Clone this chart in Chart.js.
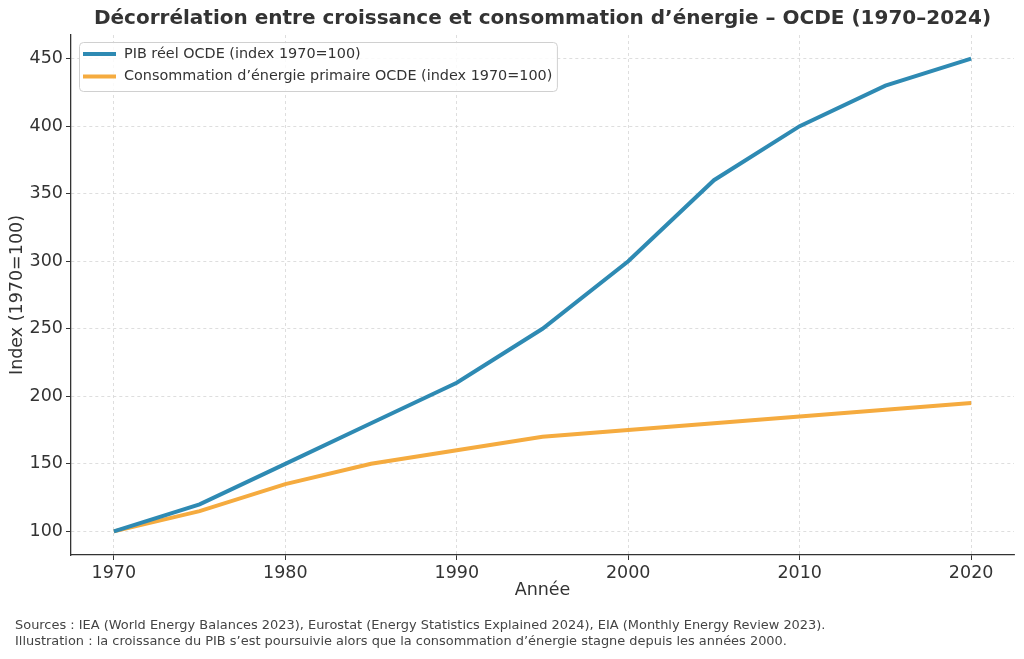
<!DOCTYPE html>
<html><head><meta charset="utf-8">
<script src="https://cdn.jsdelivr.net/npm/chart.js@4"></script>
<style>html,body{margin:0;padding:0;background:#fff}#wrap{width:1024px;height:659px;position:relative}</style>
</head><body><div id="wrap"><canvas id="c" width="1024" height="659"></canvas></div>
<script>
const years = [1970, 1975, 1980, 1985, 1990, 1995, 2000, 2005, 2010, 2015, 2020];
const gdp = [100, 120, 150, 180, 210, 250, 300, 360, 400, 430, 450];
const energy = [100, 115, 135, 150, 160, 170, 175, 180, 185, 190, 195];
const xTicks = [1970, 1980, 1990, 2000, 2010, 2020];
const yTicks = [100, 150, 200, 250, 300, 350, 400, 450];
const seriesLabels = ['PIB réel OCDE (index 1970=100)', 'Consommation d’énergie primaire OCDE (index 1970=100)'];
const seriesColors = ['#2E8AB3', '#F5AB3F'];
const titleText = 'Décorrélation entre croissance et consommation d’énergie – OCDE (1970–2024)';
const xTitle = 'Année';
const yTitle = 'Index (1970=100)';
const footerLines = [
  'Sources : IEA (World Energy Balances 2023), Eurostat (Energy Statistics Explained 2024), EIA (Monthly Energy Review 2023).',
  'Illustration : la croissance du PIB s’est poursuivie alors que la consommation d’énergie stagne depuis les années 2000.'
];

const FONT = '"DejaVu Sans", sans-serif';

const decorPlugin = {
  id: 'decor',
  afterDraw(chart) {
    const ctx = chart.ctx;
    const ca = chart.chartArea;
    ctx.save();
    // Title
    ctx.fillStyle = '#333333';
    ctx.textAlign = 'center';
    ctx.textBaseline = 'middle';
    ctx.font = 'bold 20px ' + FONT;
    ctx.fillText(titleText, (ca.left + ca.right) / 2, 19);
    // Legend
    ctx.font = '14.4px ' + FONT;
    const lx = ca.left + 8, ly = ca.top + 7;
    let maxW = 0;
    seriesLabels.forEach(t => { maxW = Math.max(maxW, ctx.measureText(t).width); });
    const bw = 49.5 + maxW, bh = 49;
    ctx.beginPath();
    if (ctx.roundRect) ctx.roundRect(lx + 0.5, ly + 0.5, bw, bh, 4); else ctx.rect(lx + 0.5, ly + 0.5, bw, bh);
    ctx.fillStyle = 'rgba(255,255,255,0.85)';
    ctx.fill();
    ctx.strokeStyle = '#d0d0d0';
    ctx.lineWidth = 1;
    ctx.stroke();
    seriesLabels.forEach((t, i) => {
      const yy = ly + 12 + i * 22.5;
      ctx.strokeStyle = seriesColors[i];
      ctx.lineWidth = 4;
      ctx.beginPath();
      ctx.moveTo(lx + 4, yy);
      ctx.lineTo(lx + 37, yy);
      ctx.stroke();
      ctx.fillStyle = '#333333';
      ctx.textAlign = 'left';
      ctx.textBaseline = 'middle';
      ctx.fillText(t, lx + 45, yy);
    });
    // Footer
    ctx.font = '12.95px ' + FONT;
    ctx.fillStyle = '#444444';
    ctx.textAlign = 'left';
    ctx.textBaseline = 'middle';
    footerLines.forEach((t, i) => ctx.fillText(t, 15, 626 + i * 15.5));
    ctx.restore();
  }
};

const gridCommon = {
  color: '#d6d6d6',
  lineWidth: 0.8,
  drawTicks: true,
  tickLength: 5,
  tickColor: '#333333',
  tickBorderDash: [],
  tickWidth: 1
};
const borderCommon = { display: true, color: '#333333', width: 1.3, dash: [3, 3] };
const axisFont = { family: FONT, size: 17.5 };

new Chart(document.getElementById('c'), {
  type: 'line',
  data: {
    datasets: [
      { label: seriesLabels[0], data: years.map((y, i) => ({ x: y, y: gdp[i] })), borderColor: seriesColors[0], borderWidth: 4, pointRadius: 0, tension: 0, fill: false },
      { label: seriesLabels[1], data: years.map((y, i) => ({ x: y, y: energy[i] })), borderColor: seriesColors[1], borderWidth: 4, pointRadius: 0, tension: 0, fill: false }
    ]
  },
  options: {
    responsive: false,
    animation: false,
    devicePixelRatio: 1,
    layout: { padding: { top: 35, right: 10, bottom: 55, left: 3 } },
    plugins: { legend: { display: false }, title: { display: false }, tooltip: { enabled: false } },
    scales: {
      x: {
        type: 'linear',
        min: 1967.5, max: 2022.5,
        afterBuildTicks: s => { s.ticks = xTicks.map(v => ({ value: v })); },
        afterFit: s => { s.height = 49; },
        ticks: { callback: v => String(v), font: axisFont, color: '#333333', padding: 3, maxRotation: 0, autoSkip: false },
        grid: gridCommon,
        border: borderCommon,
        title: { display: true, text: xTitle, font: axisFont, color: '#333333', padding: { top: 4, bottom: 3 } }
      },
      y: {
        type: 'linear',
        min: 82.5, max: 467.5,
        afterBuildTicks: s => { s.ticks = yTicks.map(v => ({ value: v })); },
        afterFit: s => { s.width = 68; },
        ticks: { callback: v => String(v), font: axisFont, color: '#333333', padding: 3 },
        grid: gridCommon,
        border: borderCommon,
        title: { display: true, text: yTitle, font: axisFont, color: '#333333', padding: { top: 4, bottom: 4 } }
      }
    }
  },
  plugins: [decorPlugin]
});
</script>
</body></html>
